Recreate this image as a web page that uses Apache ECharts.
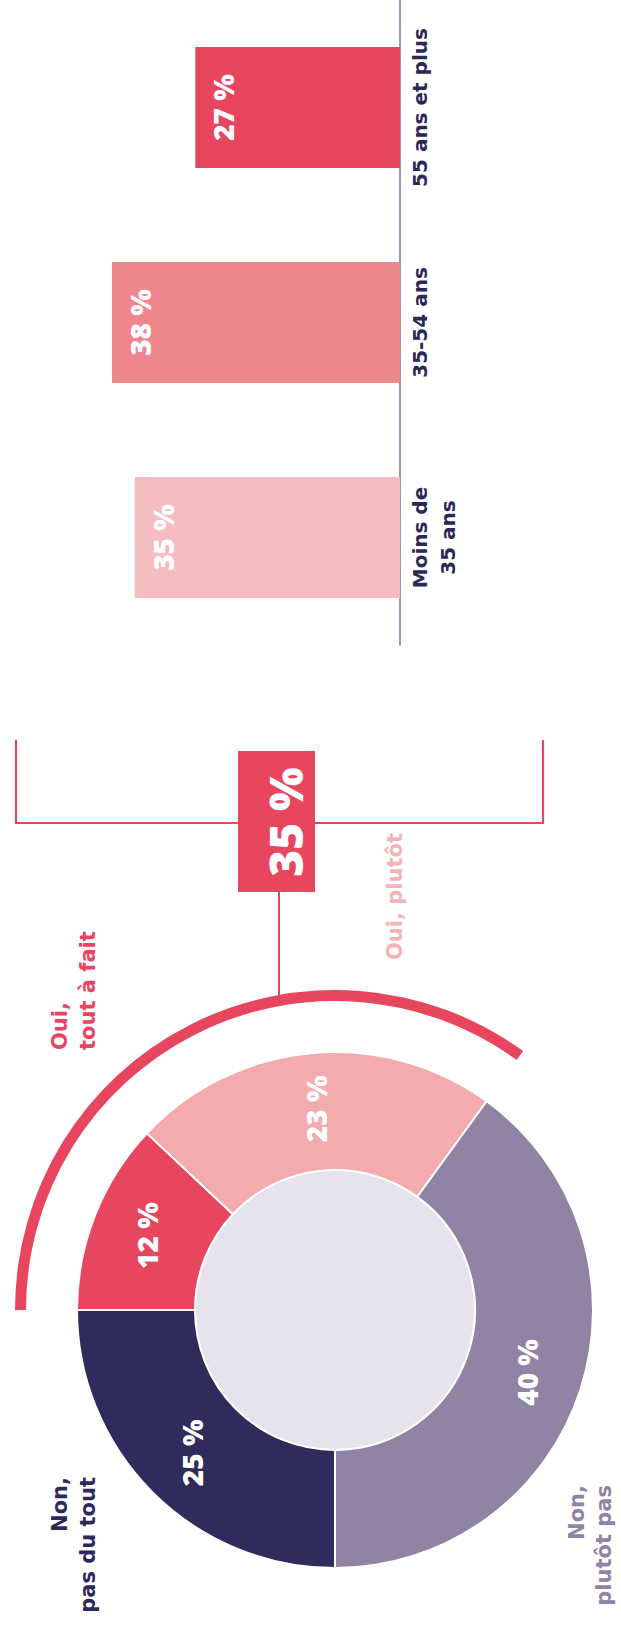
<!DOCTYPE html>
<html>
<head>
<meta charset="utf-8">
<script src="https://cdn.jsdelivr.net/npm/echarts@6/dist/echarts.min.js"></script>
<style>
  html, body { margin: 0; padding: 0; background: #fff; overflow: hidden; }
  #chart { width: 621px; height: 1629px; }
</style>
</head>
<body>
<div id="chart"></div>
<script>
const ageGroups = ['Moins de\n35 ans', '35-54 ans', '55 ans et plus'];
const ageValues = [35, 38, 27];
const answerNames = ['Oui, tout à fait', 'Oui, plutôt', 'Non, plutôt pas', 'Non, pas du tout'];
const answerValues = [12, 23, 40, 25];

const barColors = ['#f4bdbf', '#ef868e', '#e8455f'];
const pieColors = ['#e8455f', '#f3abae', '#9083a3', '#302b5d'];
const RED = '#e8455f';
const WORD_FONT = '"DejaVu Sans", sans-serif';
const NUM_FONT = '"Open Sans", sans-serif';

const center = [335, 1310];
const yesTotal = answerValues[0] + answerValues[1];

const myChart = echarts.init(document.getElementById('chart'), null, { renderer: 'svg' });

const option = {
  animation: false,
  grid: { left: 21, right: 221, top: -9, height: 654 },
  xAxis: { type: 'value', inverse: true, min: 0, max: 50, show: false },
  yAxis: {
    type: 'category',
    data: ageGroups,
    position: 'right',
    axisLine: { lineStyle: { color: '#857c9f', width: 1.6 } },
    axisTick: { show: false },
    axisLabel: {
      rotate: 90,
      margin: 6,
      color: '#2b2858',
      fontFamily: WORD_FONT,
      fontWeight: 'bold',
      fontSize: 20,
      lineHeight: 28,
    },
  },
  series: [
    {
      type: 'bar',
      barWidth: 121,
      data: ageValues.map((v, i) => ({ value: v, itemStyle: { color: barColors[i] } })),
      label: {
        show: true,
        position: 'insideLeft',
        distance: 28,
        rotate: 90,
        align: 'center',
        verticalAlign: 'middle',
        formatter: '{c} %',
        color: '#fff',
        fontFamily: NUM_FONT,
        fontWeight: 800,
        fontSize: 28,
      },
    },
    {
      name: 'inner',
      type: 'pie',
      center,
      radius: [0, 140],
      silent: true,
      data: [1],
      itemStyle: { color: '#e6e3ed', borderColor: '#fff', borderWidth: 2 },
      label: { show: false },
      labelLine: { show: false },
    },
    {
      name: 'answers',
      type: 'pie',
      center,
      radius: [140, 258],
      startAngle: 180,
      clockwise: true,
      avoidLabelOverlap: false,
      data: answerNames.map((n, i) => ({
        name: n,
        value: answerValues[i],
        itemStyle: { color: pieColors[i] },
      })),
      itemStyle: { borderColor: '#fff', borderWidth: 2 },
      label: {
        show: true,
        position: 'inside',
        rotate: 90,
        formatter: '{c} %',
        color: '#fff',
        fontFamily: NUM_FONT,
        fontWeight: 800,
        fontSize: 28,
      },
      labelLine: { show: false },
    },
    {
      name: 'yesArc',
      type: 'pie',
      center,
      radius: [309, 320],
      startAngle: 180,
      clockwise: true,
      silent: true,
      data: [
        { value: yesTotal, itemStyle: { color: RED } },
        { value: 100 - yesTotal, itemStyle: { color: 'transparent' } },
      ],
      label: { show: false },
      labelLine: { show: false },
    },
  ],
  graphic: [
    {
      type: 'polyline',
      shape: { points: [[16, 740], [16, 823], [543, 823], [543, 740]] },
      style: { stroke: RED, lineWidth: 2.2, fill: null },
    },
    {
      type: 'line',
      shape: { x1: 279, y1: 890, x2: 279, y2: 996 },
      style: { stroke: RED, lineWidth: 2 },
    },
    {
      type: 'rect',
      shape: { x: 238, y: 751, width: 77, height: 141 },
      style: { fill: RED },
    },
    {
      type: 'text',
      x: 285,
      y: 822,
      rotation: Math.PI / 2,
      style: {
        text: yesTotal + ' %',
        fill: '#fff',
        font: '800 46px ' + NUM_FONT,
        align: 'center',
        verticalAlign: 'middle',
      },
    },
    {
      type: 'text',
      x: 46,
      y: 1050,
      rotation: Math.PI / 2,
      style: {
        text: answerNames[0].replace(', ', ',\n'),
        fill: RED,
        font: 'bold 21px ' + WORD_FONT,
        lineHeight: 28,
        align: 'left',
        verticalAlign: 'top',
      },
    },
    {
      type: 'text',
      x: 381,
      y: 960,
      rotation: Math.PI / 2,
      style: {
        text: answerNames[1],
        fill: '#f4b3b5',
        font: 'bold 21px ' + WORD_FONT,
        lineHeight: 28,
        align: 'left',
        verticalAlign: 'top',
      },
    },
    {
      type: 'text',
      x: 563,
      y: 1485,
      rotation: Math.PI / 2,
      style: {
        text: answerNames[2].replace(', ', ',\n'),
        fill: '#8f84a5',
        font: 'bold 21px ' + WORD_FONT,
        lineHeight: 27,
        align: 'right',
        verticalAlign: 'top',
      },
    },
    {
      type: 'text',
      x: 46,
      y: 1477,
      rotation: Math.PI / 2,
      style: {
        text: answerNames[3].replace(', ', ',\n'),
        fill: '#2d2a5b',
        font: 'bold 21px ' + WORD_FONT,
        lineHeight: 28,
        align: 'right',
        verticalAlign: 'top',
      },
    },
  ],
};

myChart.setOption(option);
</script>
</body>
</html>
